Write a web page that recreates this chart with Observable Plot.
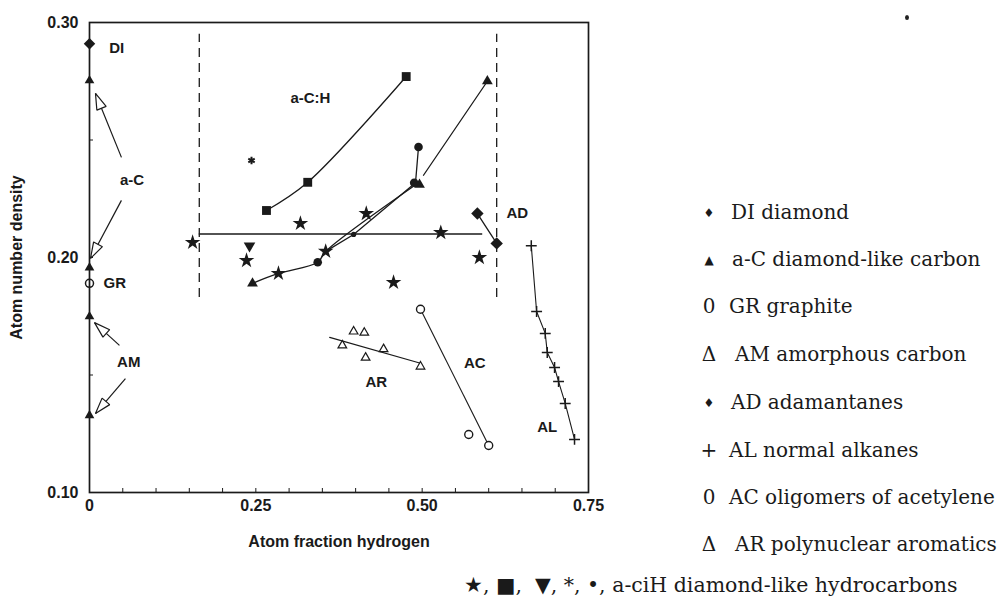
<!DOCTYPE html>
<html><head><meta charset="utf-8">
<script src="https://cdn.jsdelivr.net/npm/d3@7"></script>
<script src="https://cdn.jsdelivr.net/npm/@observablehq/plot@0.6"></script>
<style>
html,body{margin:0;padding:0;background:#fff;}
#wrap{position:relative;width:1003px;height:601px;overflow:hidden;background:#fff;}
#chart svg{display:block}
.leg{position:absolute;font-family:"DejaVu Serif","Liberation Serif",serif;font-size:20px;color:#1a1a1a;white-space:pre;line-height:1;}
.sym{position:absolute;width:20px;text-align:center;font-family:"DejaVu Serif",serif;color:#1a1a1a;line-height:1;}
</style></head><body>
<div id="wrap"><div id="chart"></div></div>
<script>
// ---------- axes ----------
const xTicks = [0, 0.25, 0.5, 0.75];
const xTickLabels = ["0", "0.25", "0.50", "0.75"];
const xMinorTicks = [0.05,0.10,0.15,0.20,0.25,0.30,0.35,0.40,0.45,0.50,0.55,0.60,0.65,0.70];
const yTicks = [0.10, 0.20, 0.30];
const yTickLabels = ["0.10", "0.20", "0.30"];
const yMinorTicks = [0.15, 0.20, 0.25];

// ---------- reference materials ----------
const diX = [0], diY = [0.291];
const acX = [0, 0], acY = [0.2753, 0.1957];
const grX = [0], grY = [0.189];
const amX = [0, 0], amY = [0.1749, 0.1328];
const adX = [0.583, 0.612], adY = [0.2187, 0.206];
const alX = [0.664, 0.672, 0.685, 0.688, 0.699, 0.705, 0.715, 0.729];
const alY = [0.205, 0.177, 0.1677, 0.1596, 0.1532, 0.1472, 0.1379, 0.1226];
const acetX = [0.4975, 0.570, 0.600], acetY = [0.178, 0.1247, 0.120];
const arX = [0.397, 0.413, 0.380, 0.442, 0.415, 0.4975];
const arY = [0.1685, 0.168, 0.1626, 0.161, 0.1574, 0.1536];
const arFitX = [0.361, 0.4975], arFitY = [0.166, 0.155];

// ---------- a-C:H diamond-like hydrocarbons ----------
const sqX = [0.266, 0.328, 0.476], sqY = [0.220, 0.232, 0.277];
const triX = [0.245, 0.496, 0.598], triY = [0.189, 0.231, 0.275];
const circX = [0.343, 0.488, 0.4945], circY = [0.198, 0.2318, 0.247];
const smallDotX = [0.397], smallDotY = [0.2098];
const starX = [0.155, 0.236, 0.317, 0.284, 0.355, 0.416, 0.528, 0.457, 0.586];
const starY = [0.2064, 0.1987, 0.2145, 0.1932, 0.2026, 0.2187, 0.2106, 0.1894, 0.200];
const invTriX = [0.2405], invTriY = [0.205];
const astX = [0.2435], astY = [0.2413];
const curveLowX = [0.245, 0.284, 0.343, 0.355, 0.493], curveLowY = [0.189, 0.1932, 0.198, 0.2026, 0.2315];
const curveUpX = [0.355, 0.397, 0.490], curveUpY = [0.2026, 0.2098, 0.2318];
const stemX = [0.490, 0.4945], stemY = [0.2318, 0.247];
const topLineX = [0.502, 0.598], topLineY = [0.235, 0.275];

// ---------- region guides ----------
const hLineY = [0.210], hLineX1 = 0.165, hLineX2 = 0.591;
const dashX = [0.165, 0.612], dashY1 = 0.183, dashY2 = 0.295;

// ---------- annotations ----------
const labelText = ["DI", "GR", "a-C", "AM", "a-C:H", "AD", "AR", "AC", "AL"];
const labelX = [0.041, 0.038, 0.064, 0.059, 0.332, 0.643, 0.431, 0.579, 0.688];
const labelY = [0.289, 0.189, 0.2328, 0.1553, 0.2677, 0.219, 0.147, 0.155, 0.1277];
const arrowX1 = [0.048, 0.048, 0.045, 0.054], arrowY1 = [0.2426, 0.2243, 0.1626, 0.1485];
const arrowX2 = [0.009, 0.0015, 0.0075, 0.009], arrowY2 = [0.2698, 0.1996, 0.1723, 0.1336];

// ---------- legend ----------
const legendSymbols = ["\u2666", "\u25B2", "0", "\u0394", "\u2666", "+", "0", "\u0394"];
const legendCodes = ["DI", "a-C", "GR", "AM", "AD", "AL", "AC", "AR"];
const legendNames = ["diamond", "diamond-like carbon", "graphite", "amorphous carbon", "adamantanes", "normal alkanes", "oligomers of acetylene", "polynuclear aromatics"];
const hydroSymbols = ["\u2605", "\u25A0", " \u25BC", "*", "\u2022"];
const hydroCode = "a-ciH", hydroName = "diamond-like hydrocarbons";

const ink = "#1a1a1a";
const pts = (xs, ys) => xs.map((x, i) => ({x, y: ys[i]}));
const ns = "http://www.w3.org/2000/svg";
function hollowHead(color) {
  const m = document.createElementNS(ns, "marker");
  m.setAttribute("viewBox", "-20 -8 22 16");
  m.setAttribute("markerWidth", "22");
  m.setAttribute("markerHeight", "16");
  m.setAttribute("markerUnits", "userSpaceOnUse");
  m.setAttribute("refX", "0");
  m.setAttribute("refY", "0");
  m.setAttribute("orient", "auto");
  const p = document.createElementNS(ns, "path");
  p.setAttribute("d", "M0,0L-16,-5L-16,5Z");
  p.setAttribute("fill", "white");
  p.setAttribute("stroke", color);
  p.setAttribute("stroke-width", "1.2");
  m.appendChild(p);
  return m;
}

const lineOpts = {x: "x", y: "y", stroke: ink, strokeWidth: 1.3};

const chart = Plot.plot({
  width: 1003, height: 601,
  marginLeft: 89, marginRight: 415, marginTop: 22, marginBottom: 109,
  x: {domain: [0, 0.75]},
  y: {domain: [0.10, 0.30]},
  style: {fontFamily: "'Liberation Sans', Arial, sans-serif", fontSize: "16px", fontWeight: "bold", color: ink, background: "white", overflow: "visible"},
  marks: [
    Plot.frame({stroke: ink, strokeWidth: 1.7}),
    Plot.axisX({ticks: xMinorTicks, tickSize: -4, tickFormat: () => "", label: null, stroke: ink}),
    Plot.axisX({ticks: xTicks, tickSize: 0, tickPadding: 7, tickFormat: d => xTickLabels[xTicks.indexOf(d)],
      label: "Atom fraction hydrogen", labelAnchor: "center", labelOffset: 54, labelArrow: "none"}),
    Plot.axisY({ticks: yMinorTicks, tickSize: -4, tickFormat: () => "", label: null, stroke: ink}),
    Plot.axisY({ticks: yTicks, tickSize: 0, tickPadding: 11, tickFormat: d => yTickLabels[yTicks.indexOf(d)],
      label: "Atom number density", labelAnchor: "center", labelOffset: 79, labelArrow: "none"}),

    Plot.ruleX(dashX, {x: d => d, y1: dashY1, y2: dashY2, stroke: ink, strokeWidth: 1.3, strokeDasharray: "9,6"}),
    Plot.ruleY(hLineY, {y: d => d, x1: hLineX1, x2: hLineX2, stroke: ink, strokeWidth: 1.7}),

    Plot.line(pts(sqX, sqY), {...lineOpts, curve: "catmull-rom"}),
    Plot.line(pts(curveLowX, curveLowY), {...lineOpts, curve: "catmull-rom"}),
    Plot.line(pts(curveUpX, curveUpY), {...lineOpts}),
    Plot.line(pts(stemX, stemY), {...lineOpts}),
    Plot.line(pts(topLineX, topLineY), {...lineOpts, curve: "catmull-rom"}),
    Plot.line(pts(adX, adY), {...lineOpts}),
    Plot.line(pts(alX, alY), {...lineOpts, strokeWidth: 1.1}),
    Plot.link([0], {x1: acetX[0], y1: acetY[0], x2: acetX[2], y2: acetY[2], stroke: ink, strokeWidth: 1.1}),
    Plot.line(pts(arFitX, arFitY), {...lineOpts, strokeWidth: 1.2}),

    Plot.link(arrowX1.map((d, i) => i), {x1: i => arrowX1[i], y1: i => arrowY1[i], x2: i => arrowX2[i], y2: i => arrowY2[i],
      stroke: ink, strokeWidth: 1.2, markerEnd: hollowHead}),

    Plot.dot(pts(diX, diY), {x: "x", y: "y", symbol: "diamond2", r: 5.2, fill: ink}),
    Plot.dot(pts(acX, acY), {x: "x", y: "y", symbol: "triangle", r: 3.6, fill: ink}),
    Plot.dot(pts(grX, grY), {x: "x", y: "y", symbol: "circle", r: 4, fill: "none", stroke: ink, strokeWidth: 1.5}),
    Plot.dot(pts(amX, amY), {x: "x", y: "y", symbol: "triangle", r: 3.6, fill: ink}),
    Plot.dot(pts(adX, adY), {x: "x", y: "y", symbol: "diamond2", r: 5.6, fill: ink}),
    Plot.dot(pts(alX, alY), {x: "x", y: "y", symbol: "plus", r: 3.6, stroke: ink, strokeWidth: 1.5}),
    Plot.dot(pts(acetX, acetY), {x: "x", y: "y", symbol: "circle", r: 4, fill: "white", stroke: ink, strokeWidth: 1.4}),
    Plot.dot(pts(arX, arY), {x: "x", y: "y", symbol: "triangle", r: 3.2, fill: "white", stroke: ink, strokeWidth: 1.2}),

    Plot.dot(pts(sqX, sqY), {x: "x", y: "y", symbol: "square", r: 5, fill: ink}),
    Plot.dot(pts(triX, triY), {x: "x", y: "y", symbol: "triangle", r: 4, fill: ink}),
    Plot.dot(pts(circX, circY), {x: "x", y: "y", symbol: "circle", r: 4.3, fill: ink}),
    Plot.dot(pts(smallDotX, smallDotY), {x: "x", y: "y", symbol: "circle", r: 2.6, fill: ink}),
    Plot.dot(pts(starX, starY), {x: "x", y: "y", symbol: "star", r: 4.9, fill: ink}),
    Plot.dot(pts(invTriX, invTriY), {x: "x", y: "y", symbol: "triangle", r: 4.3, rotate: 180, fill: ink}),
    Plot.dot(pts(astX, astY), {x: "x", y: "y", symbol: "asterisk", r: 3.5, stroke: ink, strokeWidth: 2}),

    Plot.text(labelText, {x: (d, i) => labelX[i], y: (d, i) => labelY[i], text: d => d, fontSize: 15, fontWeight: "bold", fill: ink})
  ]
});
document.getElementById("chart").appendChild(chart);

// ---------- legend (HTML) ----------
const wrap = document.getElementById("wrap");
const rowTop = [213, 260, 307, 355, 403, 451, 498, 545];
const textLeft = [731, 732, 729, 735, 731, 729, 729, 735];
legendCodes.forEach((code, i) => {
  const s = document.createElement("div");
  s.className = "sym";
  const small = legendSymbols[i] === "\u2666" || legendSymbols[i] === "\u25B2";
  s.style.fontSize = small ? "12px" : "20px";
  s.style.left = "699px";
  s.style.top = (rowTop[i] - (small ? 6 : 11)) + "px";
  s.textContent = legendSymbols[i];
  wrap.appendChild(s);
  const t = document.createElement("div");
  t.className = "leg";
  t.style.left = textLeft[i] + "px";
  t.style.top = (rowTop[i] - 11) + "px";
  t.textContent = code + " " + legendNames[i];
  wrap.appendChild(t);
});
const last = document.createElement("div");
last.className = "leg";
last.style.left = "464px";
last.style.top = "575px";
last.style.fontSize = "20.5px";
last.textContent = hydroSymbols.join(", ") + ", " + hydroCode + " " + hydroName;
wrap.appendChild(last);
const speck = document.createElement("div");
speck.style.cssText = "position:absolute;left:905px;top:15px;width:4px;height:5px;border-radius:50%;background:#222;";
wrap.appendChild(speck);
</script>
</body></html>
